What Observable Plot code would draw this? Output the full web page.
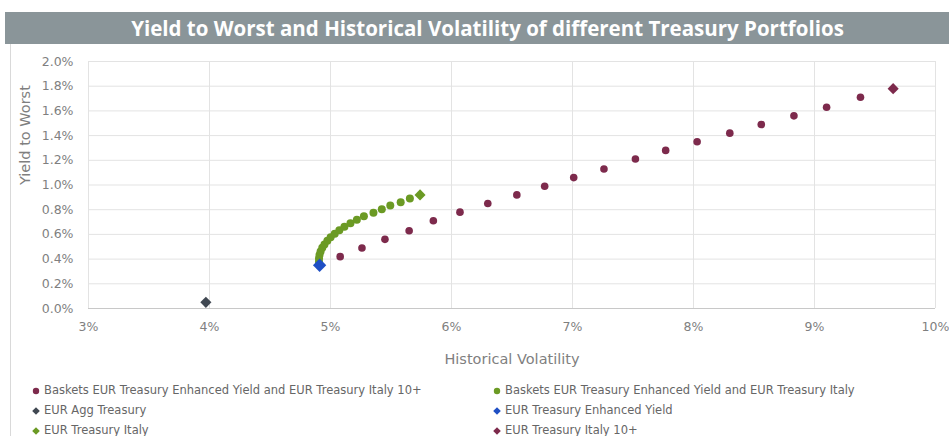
<!DOCTYPE html>
<html>
<head>
<meta charset="utf-8">
<script src="https://cdn.jsdelivr.net/npm/d3@7"></script>
<script src="https://cdn.jsdelivr.net/npm/@observablehq/plot@0.6"></script>
<style>
  html, body { margin: 0; padding: 0; background: #fff; }
  #wrap { position: relative; width: 949px; height: 436px; overflow: hidden; font-family: "DejaVu Sans", sans-serif; }
  #frame { position: absolute; left: 10px; top: 44px; width: 950px; height: 400px; border-left: 1px solid #d9d9d9; }
  #title { position: absolute; left: 5px; top: 12px; width: 944px; height: 32px; background: #8a9599; color: #fff;
           font-family: "Open Sans", sans-serif; font-weight: 700; font-size: 20.5px; line-height: 32px; text-align: center;
           box-sizing: border-box; padding-left: 21px; }
  #chart { position: absolute; left: 0; top: 45px; }
  #legend { position: absolute; left: 0; top: 380px; width: 949px; font-size: 11.5px; color: #666; }
  .item { position: absolute; height: 20px; line-height: 20px; white-space: nowrap; }
  .item svg { vertical-align: middle; margin-right: 3px; }
</style>
</head>
<body>
<div id="wrap">
  <div id="frame"></div>
  <div id="title"></div>
  <div id="chart"></div>
  <div id="legend"></div>
</div>
<script>
const titleText = "Yield to Worst and Historical Volatility of different Treasury Portfolios";
const xLabel = "Historical Volatility";
const yLabel = "Yield to Worst";

const seriesNames = [
  "Baskets EUR Treasury Enhanced Yield and EUR Treasury Italy 10+",
  "Baskets EUR Treasury Enhanced Yield and EUR Treasury Italy",
  "EUR Agg Treasury",
  "EUR Treasury Enhanced Yield",
  "EUR Treasury Italy",
  "EUR Treasury Italy 10+"
];
const seriesColors = ["#7d2a4c", "#6b9a24", "#404852", "#1f4fc4", "#6b9a24", "#7d2a4c"];
const seriesSymbols = ["circle", "circle", "diamond2", "diamond2", "diamond2", "diamond2"];

// Baskets Enhanced Yield + Italy 10+ (volatility %, yield %)
const basketItaly10Vol = [5.08, 5.26, 5.45, 5.65, 5.85, 6.07, 6.30, 6.54, 6.77, 7.01, 7.26, 7.52, 7.77, 8.03, 8.30, 8.56, 8.83, 9.10, 9.38];
const basketItaly10Yield = [0.42, 0.49, 0.56, 0.63, 0.71, 0.78, 0.85, 0.92, 0.99, 1.06, 1.13, 1.21, 1.28, 1.35, 1.42, 1.49, 1.56, 1.63, 1.71];

// Baskets Enhanced Yield + Italy
const basketItalyVol = [4.905, 4.905, 4.909, 4.918, 4.932, 4.950, 4.974, 5.001, 5.035, 5.073, 5.115, 5.165, 5.218, 5.276, 5.355, 5.424, 5.494, 5.580, 5.656];
const basketItalyYield = [0.377, 0.405, 0.434, 0.462, 0.491, 0.519, 0.548, 0.576, 0.605, 0.633, 0.662, 0.690, 0.719, 0.747, 0.776, 0.804, 0.833, 0.861, 0.890];

// Single portfolios
const aggVol = [3.97], aggYield = [0.05];
const enhancedVol = [4.91], enhancedYield = [0.35];
const italyVol = [5.74], italyYield = [0.92];
const italy10Vol = [9.65], italy10Yield = [1.78];

const xTicks = [3, 4, 5, 6, 7, 8, 9, 10];
const yTicks = [0, 0.2, 0.4, 0.6, 0.8, 1.0, 1.2, 1.4, 1.6, 1.8, 2.0];

const seriesVol = [basketItaly10Vol, basketItalyVol, aggVol, enhancedVol, italyVol, italy10Vol];
const seriesYield = [basketItaly10Yield, basketItalyYield, aggYield, enhancedYield, italyYield, italy10Yield];

document.getElementById("title").textContent = titleText;

const rows = (i) => seriesVol[i].map((v, j) => ({vol: v, yld: seriesYield[i][j], s: seriesNames[i]}));

const dotMark = (i, r) => Plot.dot(rows(i), {
  x: "vol", y: "yld", r, symbol: () => seriesSymbols[i], fill: seriesColors[i], stroke: "none"
});

const plot = Plot.plot({
  width: 949,
  height: 330,
  marginLeft: 88,
  marginRight: 14,
  marginTop: 16,
  marginBottom: 67,
  style: {fontFamily: "DejaVu Sans, sans-serif", fontSize: "12px", color: "#7f7f7f", background: "transparent"},
  x: {domain: [3, 10]},
  y: {domain: [0, 2]},
  symbol: {type: "identity"},
  marks: [
    Plot.gridX(xTicks, {stroke: "#e3e3e3", strokeOpacity: 1}),
    Plot.gridY(yTicks, {stroke: "#e3e3e3", strokeOpacity: 1}),
    Plot.ruleY([0], {stroke: "#c8c8c8"}),
    Plot.axisX(xTicks, {tickSize: 0, tickPadding: 14, tickFormat: d => d + "%", fill: "#7f7f7f",
      label: null, fontSize: 12.5}),
    Plot.axisY(yTicks, {tickSize: 0, tickPadding: 15, tickFormat: d => d.toFixed(1) + "%", fill: "#7f7f7f",
      label: null, fontSize: 12.5}),
    Plot.text([xLabel], {frameAnchor: "bottom", dy: 55, fontSize: 14.5, fill: "#7f7f7f"}),
    Plot.text([yLabel], {frameAnchor: "left", dx: -63, rotate: -90, fontSize: 14.5, fill: "#7f7f7f"}),
    dotMark(0, 3.8),
    dotMark(1, 4),
    dotMark(2, 5),
    dotMark(3, 6),
    dotMark(4, 5),
    dotMark(5, 5)
  ]
});
document.getElementById("chart").appendChild(plot);

// Legend
const legend = document.getElementById("legend");
const legendPos = [[31, 0], [492, 0], [31, 20], [492, 20], [31, 40], [492, 40]];
seriesNames.forEach((name, i) => {
  const div = document.createElement("div");
  div.className = "item";
  div.style.left = legendPos[i][0] + "px";
  div.style.top = legendPos[i][1] + "px";
  const shape = seriesSymbols[i] === "circle"
    ? `<circle cx="5" cy="5" r="3.2" fill="${seriesColors[i]}"/>`
    : `<path d="M5,1.2L8.8,5L5,8.8L1.2,5Z" fill="${seriesColors[i]}"/>`;
  div.innerHTML = `<svg width="10" height="10">${shape}</svg>`;
  div.appendChild(document.createTextNode(name));
  legend.appendChild(div);
});
</script>
</body>
</html>
